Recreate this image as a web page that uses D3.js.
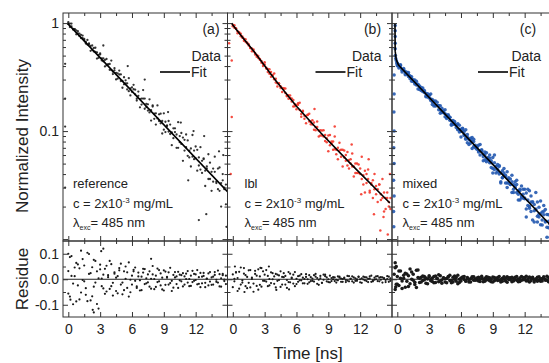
<!DOCTYPE html>
<html>
<head>
<meta charset="utf-8">
<script src="https://cdn.jsdelivr.net/npm/d3@7"></script>
<style>
  body { margin: 0; background: #fff; }
  svg { display: block; font-family: "Liberation Sans", Arial, sans-serif; }
</style>
</head>
<body>
<div id="chart"></div>
<script>
// time channels (ns)
const times = [0,0.15,0.3,0.45,0.6,0.75,0.9,1.05,1.2,1.35, 1.5,1.65,1.8,1.95,2.1,2.25,2.4,2.55,2.7,2.85,
  3,3.15,3.3,3.45,3.6,3.75,3.9,4.05,4.2,4.35, 4.5,4.65,4.8,4.95,5.1,5.25,5.4,5.55,5.7,5.85,
  6,6.15,6.3,6.45,6.6,6.75,6.9,7.05,7.2,7.35, 7.5,7.65,7.8,7.95,8.1,8.25,8.4,8.55,8.7,8.85,
  9,9.15,9.3,9.45,9.6,9.75,9.9,10.05,10.2,10.35, 10.5,10.65,10.8,10.95,11.1,11.25,11.4,11.55,11.7,11.85,
  12,12.15,12.3,12.45,12.6,12.75,12.9,13.05,13.2,13.35, 13.5,13.65,13.8,13.95,14.1,14.25,14.4,14.55,14.7,14.85];

// (a) reference
const aTight = [0.98,0.99,0.934,0.87,0.879,0.855,0.801,0.76,0.778,0.725, 0.712,0.668,0.633,0.649,0.614,0.564,0.588,0.542,0.535,0.477,
  0.513,0.472,0.443,0.456,0.406,0.415,0.418,0.367,0.337,0.365, 0.346,0.306,0.334,0.335,0.291,0.271,0.295,0.277,0.234,0.248,
  0.231,0.244,0.242,0.2,0.212,0.198,0.176,0.2,0.2,0.167, 0.177,0.149,0.156,0.173,0.13,0.146,0.131,0.143,0.118,0.124,
  0.103,0.122,0.112,0.099,0.115,0.097,0.086,0.106,0.093,0.07, 0.09,0.076,0.087,0.066,0.071,0.082,0.057,0.069,0.058,0.066,
  0.056,0.067,0.048,0.044,0.053,0.055,0.043,0.045,0.036,0.051, 0.042,0.034,0.042,0.033,0.045,0.028,0.033,0.035,0.029,0.032];
const aWide = [1.02,0.92,0.99,0.885,0.873,0.787,0.841,0.80,0.726,0.766, 0.695,0.647,0.698,0.638,0.553,0.62,0.546,0.591,0.469,0.507,
  0.525,0.451,0.472,0.397,0.465,0.415,0.369,0.45,0.355,0.382, 0.301,0.343,0.363,0.291,0.252,0.315,0.276,0.243,0.309,0.214,
  0.254,0.268,0.219,0.192,0.232,0.166,0.2,0.24,0.161,0.179, 0.155,0.197,0.125,0.169,0.145,0.115,0.173,0.124,0.145,0.095,
  0.146,0.098,0.112,0.124,0.094,0.074,0.106,0.098,0.07,0.121, 0.079,0.096,0.053,0.083,0.093,0.059,0.066,0.047,0.092,0.055,
  0.072,0.043,0.057,0.071,0.041,0.056,0.031,0.047,0.061,0.036, 0.028,0.045,0.058,0.034,0.029,0.046,0.02,0.04,0.03,0.021];
const aExtra = [[-0.3,0.42],[-0.3,0.2],[-0.3,0.11],[-0.3,0.03],[12.3,0.015],[14.9,0.013],[13.0,0.017],[11.8,0.1],
  [10.6,0.12],[12.8,0.09],[7.2,0.3],[5.6,0.4],[3.3,0.62],[14.6,0.06],[14.2,0.065],[9.4,0.15],[11.3,0.035]];
const aFit = [[-0.1,1.0],[15.0,0.0275]];
const aRes1 = [0.032,-0.068,0.091,-0.017,0.012,-0.087,0.058,0.043,-0.052,0.079, -0.008,-0.061,0.104,0.021,-0.083,0.047,-0.029,0.072,-0.097,0.004,
  0.039,-0.027,0.018,-0.057,0.053,0.008,-0.038,0.059,-0.014,0.027, -0.046,0.012,0.044,-0.021,-0.059,0.031,0.002,-0.034,0.066,-0.051,
  0.014,0.037,-0.006,-0.028,0.026,-0.044,0.01,0.041,-0.019,0.004, -0.012,0.031,-0.037,0.019,0.001,-0.03,0.042,-0.008,0.023,-0.04,
  0.035,-0.022,0.006,0.027,-0.015,-0.046,0.017,0.007,-0.019,0.029, -0.004,0.016,-0.028,0.011,0.022,-0.013,0.001,-0.026,0.033,-0.006,
  0.019,-0.02,0.008,0.025,-0.016,0.013,-0.031,0.003,0.023,-0.009, -0.022,0.01,0.028,-0.002,-0.013,0.02,-0.029,0.016,-0.001,-0.019];
const aRes2 = [-0.056,0.087,0.013,-0.098,0.046,0.064,-0.024,-0.079,0.112,-0.003, 0.054,-0.035,-0.086,0.099,0.024,-0.067,0.076,-0.013,0.031,-0.115,
  0.057,0.003,-0.036,0.041,-0.048,0.016,0.072,-0.027,-0.064,0.022, 0.006,-0.055,0.035,0.061,-0.013,-0.043,0.05,0.027,-0.068,-0.002,
  -0.021,0.031,0.046,-0.034,0.011,-0.004,-0.043,0.026,0.04,-0.016, 0.019,-0.029,0.002,0.052,-0.039,0.014,-0.011,0.036,-0.024,0.006,
  -0.044,0.03,0.009,-0.021,0.045,-0.006,-0.033,0.028,0.011,-0.034, 0.018,-0.008,0.024,-0.021,0.001,0.032,-0.027,0.014,-0.011,0.021,
  -0.003,0.036,-0.018,-0.031,0.01,0.025,-0.014,0.002,-0.024,0.028, 0.007,-0.021,0.017,-0.01,0.034,-0.028,0.004,0.021,-0.007,0.014];
const aResExtra = [[2.3,-0.12],[2.4,-0.13],[3.3,0.12],[3.1,0.11],[0.0,0.1],[0.2,-0.08],[7.8,0.08]];

// (b) lbl
const bTight = [0.967,0.904,0.898,0.839,0.809,0.757,0.75,0.716,0.67,0.662, 0.621,0.588,0.583,0.549,0.513,0.507,0.476,0.466,0.43,0.421,
  0.414,0.379,0.375,0.339,0.352,0.327,0.302,0.305,0.278,0.274, 0.25,0.25,0.246,0.225,0.21,0.215,0.201,0.188,0.194,0.17,
  0.174,0.175,0.157,0.144,0.154,0.13,0.138,0.141,0.123,0.123, 0.115,0.12,0.102,0.109,0.101,0.091,0.101,0.089,0.092,0.079,
  0.091,0.074,0.077,0.08,0.068,0.061,0.07,0.066,0.058,0.067, 0.057,0.06,0.048,0.054,0.055,0.047,0.047,0.041,0.05,0.041,
  0.045,0.036,0.039,0.043,0.033,0.036,0.027,0.033,0.035,0.029, 0.026,0.029,0.032,0.026,0.024,0.027,0.019,0.024,0.022,0.019];
const bWide = [0.937,0.954,0.884,0.807,0.822,0.795,0.733,0.686,0.71,0.65, 0.637,0.588,0.549,0.569,0.528,0.487,0.495,0.457,0.446,0.401,
  0.434,0.386,0.353,0.374,0.318,0.331,0.341,0.282,0.259,0.277, 0.26,0.23,0.249,0.248,0.215,0.199,0.214,0.2,0.169,0.177,
  0.159,0.181,0.183,0.136,0.152,0.139,0.118,0.142,0.145,0.116, 0.126,0.103,0.109,0.123,0.089,0.102,0.091,0.102,0.081,0.086,
  0.065,0.092,0.08,0.067,0.089,0.067,0.055,0.078,0.067,0.047, 0.066,0.053,0.064,0.045,0.05,0.062,0.038,0.05,0.041,0.049,
  0.04,0.058,0.032,0.027,0.04,0.044,0.028,0.032,0.024,0.04, 0.031,0.022,0.032,0.023,0.036,0.018,0.024,0.027,0.02,0.024];
const bExtra = [[-0.35,0.65],[-0.1,0.45],[-0.1,0.135],[-0.2,0.04],[13.9,0.012],[14.6,0.011],[14.2,0.016],
  [12.8,0.055],[11.2,0.075],[9.6,0.11],[7.7,0.16],[14.8,0.04],[13.3,0.017],[12.1,0.026]];
const bFit = [[-0.1,1.0],[0,0.96],[1,0.72],[2,0.545],[4,0.297],[6,0.17],[8.3,0.096],[11,0.051],[14.8,0.0216]];
const bRes1 = [-0.031,0.002,0.026,-0.046,0.029,-0.021,-0.004,0.044,0.016,-0.035, -0.014,0.036,0.006,-0.049,0.021,-0.026,0.039,0.011,-0.029,0.031,
  -0.006,0.036,-0.027,0.001,-0.015,0.024,0.011,-0.032,0.018,-0.003, 0.031,-0.021,0.008,0.013,-0.034,-0.011,0.022,0.004,-0.017,0.028,
  -0.019,0.012,-0.004,0.02,-0.016,0.001,0.009,-0.018,0.016,-0.007, 0.003,-0.009,0.021,0.005,-0.022,0.013,-0.014,-0.002,0.018,0.007,
  -0.011,0.014,-0.007,0.0,0.007,-0.013,-0.004,0.01,0.003,-0.01, 0.006,-0.003,0.013,-0.008,0.002,0.011,-0.013,0.004,-0.006,0.009,
  0.0,-0.014,0.01,-0.004,0.007,-0.011,0.003,0.014,-0.008,-0.002, 0.011,-0.007,0.006,0.008,-0.013,0.002,-0.003,0.012,-0.01,0.004];
const bRes2 = [0.019,-0.008,0.028,0.005,-0.037,0.046,-0.013,0.022,-0.027,0.009, 0.035,-0.032,0.001,-0.017,0.033,0.014,-0.041,-0.022,0.044,-0.006,
  0.018,-0.009,0.013,-0.024,0.027,0.0,-0.018,0.021,-0.006,0.015, -0.03,0.009,0.024,-0.021,-0.003,0.028,-0.012,0.006,0.018,-0.027,
  0.002,-0.01,0.014,-0.004,0.006,-0.016,0.02,0.0,-0.012,0.008, -0.006,0.016,0.01,-0.018,-0.002,0.004,-0.014,0.018,0.012,-0.008,
  0.0,-0.012,0.005,0.008,-0.007,-0.002,0.011,0.006,-0.01,0.001, 0.004,-0.011,-0.005,0.012,0.002,-0.008,0.007,-0.006,0.0,0.01,
  -0.012,0.004,-0.001,0.008,-0.007,0.002,0.011,-0.01,-0.004,0.006, 0.0,0.012,-0.008,-0.002,0.007,0.005,-0.011,0.001,0.01,-0.006];
const bResExtra = [[0.2,0.05],[1.1,-0.05],[3.4,0.05],[5.3,-0.04],[2.6,0.045],[4.1,-0.042]];

// (c) mixed
const cTight = [0.414,0.409,0.391,0.366,0.367,0.357,0.336,0.32,0.324,0.304, 0.298,0.281,0.267,0.271,0.256,0.242,0.242,0.228,0.223,0.207,
  0.213,0.198,0.187,0.19,0.173,0.173,0.173,0.157,0.149,0.151, 0.145,0.134,0.137,0.134,0.124,0.117,0.119,0.114,0.104,0.104,
  0.099,0.1,0.099,0.086,0.088,0.084,0.077,0.08,0.08,0.072, 0.072,0.066,0.066,0.067,0.058,0.06,0.056,0.057,0.051,0.051,
  0.045,0.051,0.047,0.042,0.047,0.041,0.037,0.041,0.038,0.033, 0.036,0.032,0.034,0.029,0.03,0.032,0.026,0.028,0.025,0.026,
  0.0236,0.0267,0.0205,0.0193,0.022,0.0221,0.0183,0.0187,0.0163,0.0197, 0.0173,0.015,0.0168,0.0144,0.0169,0.0127,0.0137,0.0143,0.0122,0.0127];
const cWide = [0.427,0.383,0.411,0.372,0.365,0.332,0.35,0.335,0.306,0.318, 0.292,0.273,0.289,0.267,0.243,0.253,0.233,0.238,0.208,0.213,
  0.216,0.192,0.196,0.171,0.19,0.173,0.158,0.172,0.153,0.154, 0.136,0.141,0.142,0.126,0.116,0.125,0.116,0.108,0.117,0.098,
  0.104,0.106,0.093,0.084,0.093,0.075,0.082,0.087,0.072,0.074, 0.068,0.074,0.06,0.066,0.061,0.054,0.063,0.054,0.056,0.046,
  0.057,0.044,0.047,0.049,0.04,0.034,0.043,0.039,0.033,0.042, 0.033,0.036,0.027,0.032,0.034,0.027,0.028,0.023,0.031,0.024,
  0.029,0.019,0.023,0.028,0.018,0.022,0.0144,0.019,0.022,0.016, 0.0136,0.0178,0.0205,0.0147,0.0129,0.0168,0.0104,0.0152,0.0126,0.0101];
const cOuter = [0.402,0.40,0.404,0.352,0.379,0.341,0.336,0.348,0.322,0.289, 0.288,0.297,0.275,0.245,0.262,0.237,0.251,0.232,0.211,0.222,
  0.202,0.22,0.176,0.185,0.171,0.185,0.171,0.146,0.163,0.148, 0.158,0.131,0.137,0.134,0.113,0.116,0.123,0.113,0.103,0.113,
  0.088,0.105,0.091,0.103,0.078,0.084,0.086,0.069,0.084,0.07, 0.071,0.064,0.075,0.065,0.053,0.064,0.052,0.054,0.06,0.053,
  0.041,0.06,0.041,0.044,0.048,0.033,0.037,0.045,0.039,0.03, 0.037,0.032,0.039,0.027,0.031,0.035,0.023,0.029,0.024,0.029,
  0.024,0.016,0.029,0.02,0.025,0.015,0.0209,0.027,0.0144,0.017, 0.0225,0.0135,0.0181,0.0188,0.0104,0.0146,0.0127,0.0182,0.0097,0.0136];
const cEdge = [[-0.3,0.33],[-0.3,0.22],[-0.32,0.15],[-0.3,0.1],[-0.33,0.07],[-0.3,0.05],[-0.35,0.035],[-0.3,0.025],
  [-0.35,0.018],[-0.33,0.013],[-0.2,0.95],[-0.2,0.85],[-0.2,0.75],[-0.2,0.65],[-0.2,0.58],[-0.18,0.5],[-0.15,0.47],
  [-0.1,0.45],[-0.05,0.43],[0.0,0.42]];
const cFit = [[-0.22,1.0],[-0.2,0.55],[-0.1,0.46],[0.1,0.41],[0.3,0.39],[14.95,0.0119]];
const cRes1 = [0.011,-0.024,0.032,-0.007,0.004,-0.031,0.021,0.014,-0.018,0.028, -0.004,-0.021,0.035,0.007,-0.013,0.008,-0.005,0.011,-0.016,0.001,
  0.01,-0.006,0.005,-0.014,0.013,0.002,-0.01,0.014,-0.003,0.006, -0.011,0.003,0.011,-0.005,-0.014,0.008,0.0,-0.008,0.016,-0.013,
  0.005,0.009,-0.001,-0.007,0.007,-0.011,0.002,0.01,-0.004,0.001, -0.003,0.008,-0.009,0.004,0.0,-0.008,0.01,-0.002,0.006,-0.01,
  0.009,-0.006,0.001,0.007,-0.003,-0.011,0.004,0.002,-0.007,0.01, -0.001,0.006,-0.01,0.003,0.008,-0.004,0.0,-0.009,0.011,-0.002,
  0.007,-0.007,0.002,0.009,-0.006,0.004,-0.011,0.001,0.008,-0.003, -0.008,0.003,0.01,-0.001,-0.004,0.007,-0.01,0.006,0.0,-0.007];
const cRes2 = [-0.02,0.032,0.004,-0.036,0.016,0.024,-0.008,-0.028,0.04,0.0, 0.02,-0.012,-0.032,0.036,0.004,-0.011,0.013,-0.002,0.005,-0.018,
  0.014,0.0,-0.009,0.011,-0.013,0.004,0.018,-0.007,-0.016,0.005, 0.002,-0.014,0.009,0.016,-0.004,-0.011,0.013,0.007,-0.018,0.0,
  -0.007,0.007,0.011,-0.008,0.002,-0.001,-0.011,0.006,0.01,-0.004, 0.005,-0.007,0.0,0.012,-0.01,0.004,-0.002,0.008,-0.006,0.001,
  -0.011,0.007,0.002,-0.005,0.011,-0.001,-0.008,0.01,0.004,-0.012, 0.006,-0.002,0.008,-0.007,0.0,0.011,-0.01,0.005,-0.004,0.007,
  -0.001,0.012,-0.006,-0.011,0.004,0.008,-0.005,0.0,-0.008,0.01, 0.002,-0.007,0.006,-0.004,0.012,-0.01,0.001,0.007,-0.002,0.005];
const cResExtra = [[-0.2,0.065],[-0.2,0.045],[-0.2,-0.04],[-0.15,-0.03],[-0.1,0.05],[-0.1,-0.02],[-0.3,0.02]];

const majorX = [0, 3, 6, 9, 12];
const minorX = [1.5, 4.5, 7.5, 10.5, 13.5];
const majorLog = [0.01, 0.1, 1];
const resMajor = [-0.1, 0, 0.1];
const resMinor = [-0.05, 0.05];
const sampleNames = ['reference', 'lbl', 'mixed'];
const panelTags = ['(a)', '(b)', '(c)'];

const W = 549, H = 363;
const panelW = 164.5;
const panelX = [63, 227.5, 392];
const topTop = 13, topBottom = 241, resBottom = 317;

const x = d3.scaleLinear().domain([-0.5, 15]).range([0, panelW]);
const yTop = d3.scaleLog().domain([0.0096, 1.24]).range([topBottom, topTop]);
const yRes = d3.scaleLinear().domain([-0.148, 0.15]).range([resBottom, topBottom]);
const minorLog = yTop.ticks().filter(v => !majorLog.includes(+v.toPrecision(3)));

const pairs = (vs) => vs.map((v, k) => [times[k], v]);

const panels = [
  {top: [...pairs(aTight), ...pairs(aWide), ...aExtra], fit: aFit,
   res: [...pairs(aRes1), ...pairs(aRes2), ...aResExtra],
   color: '#1e1e1e', r: 1.15, rr: 1.1, tagX: 148, dataR: 158, fitL: [97, 127], noteX: 10},
  {top: [...pairs(bTight), ...pairs(bWide), ...bExtra], fit: bFit,
   res: [...pairs(bRes1), ...pairs(bRes2), ...bResExtra],
   color: '#f4372b', r: 1.25, rr: 1.1, tagX: 145, dataR: 154, fitL: [88, 118], noteX: 17},
  {top: [...pairs(cTight), ...pairs(cWide), ...pairs(cOuter), ...cEdge], fit: cFit,
   res: [...pairs(cRes1), ...pairs(cRes2), ...cResExtra],
   color: '#2459b0', r: 1.75, rr: 1.75, tagX: 136, dataR: 149, fitL: [86, 116], noteX: 10.5}
];

const svg = d3.select('#chart').append('svg')
  .attr('width', W).attr('height', H);

const textCol = '#222';
const fmtRes = d => (d < 0 ? '-' : '') + Math.abs(d).toFixed(1);

function styleAxis(sel) {
  sel.select('.domain').remove();
  sel.selectAll('line').attr('stroke', '#333');
  sel.selectAll('text').attr('fill', textCol).style('font-size', '14px')
    .style('font-family', '"Liberation Sans", Arial, sans-serif');
}

panels.forEach((p, i) => {
  const g = svg.append('g').attr('transform', `translate(${panelX[i]},0)`);

  g.append('clipPath').attr('id', 'ct' + i).append('rect')
    .attr('x', 0).attr('y', topTop).attr('width', panelW).attr('height', topBottom - topTop);
  g.append('clipPath').attr('id', 'cr' + i).append('rect')
    .attr('x', 0).attr('y', topBottom).attr('width', panelW).attr('height', resBottom - topBottom);

  // decay data + fit
  const top = g.append('g').attr('clip-path', `url(#ct${i})`);
  top.selectAll('circle').data(p.top).enter().append('circle')
    .attr('cx', d => x(d[0])).attr('cy', d => yTop(d[1]))
    .attr('r', p.r).attr('fill', p.color).attr('opacity', 0.9);
  top.append('path').datum(p.fit)
    .attr('d', d3.line().x(d => x(d[0])).y(d => yTop(d[1])))
    .attr('fill', 'none').attr('stroke', '#000').attr('stroke-width', 1.6);

  // residues
  const res = g.append('g').attr('clip-path', `url(#cr${i})`);
  res.append('line').attr('x1', 0).attr('x2', panelW)
    .attr('y1', yRes(0)).attr('y2', yRes(0)).attr('stroke', '#222').attr('stroke-width', 1);
  res.selectAll('circle').data(p.res).enter().append('circle')
    .attr('cx', d => x(d[0])).attr('cy', d => yRes(d[1]))
    .attr('r', p.rr).attr('fill', '#1a1a1a');

  // frames
  [[topTop, topBottom], [topBottom, resBottom]].forEach(([y0, y1]) => {
    g.append('rect').attr('x', 0).attr('y', y0).attr('width', panelW).attr('height', y1 - y0)
      .attr('fill', 'none').attr('stroke', '#333').attr('stroke-width', 1);
  });

  // inward ticks on every side
  const addY = (scale, major, minor, fmt) => {
    g.append('g').call(d3.axisLeft(scale).tickValues(major).tickSize(-5).tickPadding(4).tickFormat(fmt)).call(styleAxis);
    g.append('g').call(d3.axisLeft(scale).tickValues(minor).tickSize(-3).tickFormat('')).call(styleAxis);
    g.append('g').attr('transform', `translate(${panelW},0)`)
      .call(d3.axisRight(scale).tickValues(major).tickSize(-5).tickFormat('')).call(styleAxis);
    g.append('g').attr('transform', `translate(${panelW},0)`)
      .call(d3.axisRight(scale).tickValues(minor).tickSize(-3).tickFormat('')).call(styleAxis);
  };
  addY(yTop, majorLog, minorLog, i === 0 ? (d => (d >= 0.1 ? d3.format('~g')(d) : '')) : '');
  addY(yRes, resMajor, resMinor, i === 0 ? fmtRes : '');

  const addX = (y, up) => {
    const mk = () => (up ? d3.axisBottom(x) : d3.axisTop(x));
    g.append('g').attr('transform', `translate(0,${y})`)
      .call(mk().tickValues(majorX).tickSize(-5).tickFormat('')).call(styleAxis);
    g.append('g').attr('transform', `translate(0,${y})`)
      .call(mk().tickValues(minorX).tickSize(-3).tickFormat('')).call(styleAxis);
  };
  addX(topTop, false);
  addX(topBottom, true);
  addX(topBottom, false);
  g.append('g').attr('transform', `translate(0,${resBottom})`)
    .call(d3.axisBottom(x).tickValues(majorX).tickSize(-5).tickPadding(7).tickFormat(d3.format('d')))
    .call(styleAxis);
  g.append('g').attr('transform', `translate(0,${resBottom})`)
    .call(d3.axisBottom(x).tickValues(minorX).tickSize(-3).tickFormat(''))
    .call(styleAxis);

  // panel tag and legend
  const t = g.append('g').attr('fill', textCol).style('font-size', '13px');
  t.append('text').attr('x', p.tagX).attr('y', 34).attr('text-anchor', 'middle')
    .style('font-size', '14px').text(panelTags[i]);
  t.append('text').attr('x', p.dataR).attr('y', 61).attr('text-anchor', 'end')
    .style('font-size', '14px').text('Data');
  g.append('line').attr('x1', p.fitL[0]).attr('x2', p.fitL[1]).attr('y1', 72).attr('y2', 72)
    .attr('stroke', '#000').attr('stroke-width', 1.6);
  t.append('text').attr('x', p.fitL[1] + 1).attr('y', 77).style('font-size', '14px').text('Fit');

  // sample annotation
  t.append('text').attr('x', p.noteX).attr('y', 188).text(sampleNames[i]);
  const c = t.append('text').attr('x', p.noteX).attr('y', 208);
  c.append('tspan').text('c = 2x10');
  c.append('tspan').attr('dy', -5).style('font-size', '8px').text('-3');
  c.append('tspan').attr('dy', 5).text(' mg/mL');
  const l = t.append('text').attr('x', p.noteX).attr('y', 227);
  l.append('tspan').text('λ');
  l.append('tspan').attr('dy', 3).style('font-size', '7px').text('exc');
  l.append('tspan').attr('dy', -3).text('= 485 nm');
});

// axis titles
svg.append('text').attr('transform', 'translate(22,136) rotate(-90)')
  .attr('text-anchor', 'middle').attr('dominant-baseline', 'central')
  .attr('fill', textCol).style('font-size', '17px').text('Normalized Intensity');
svg.append('text').attr('transform', 'translate(22,279) rotate(-90)')
  .attr('text-anchor', 'middle').attr('dominant-baseline', 'central')
  .attr('fill', textCol).style('font-size', '17px').text('Residue');
svg.append('text').attr('x', 308).attr('y', 359).attr('text-anchor', 'middle')
  .attr('fill', textCol).style('font-size', '17px').text('Time [ns]');
</script>
</body>
</html>
